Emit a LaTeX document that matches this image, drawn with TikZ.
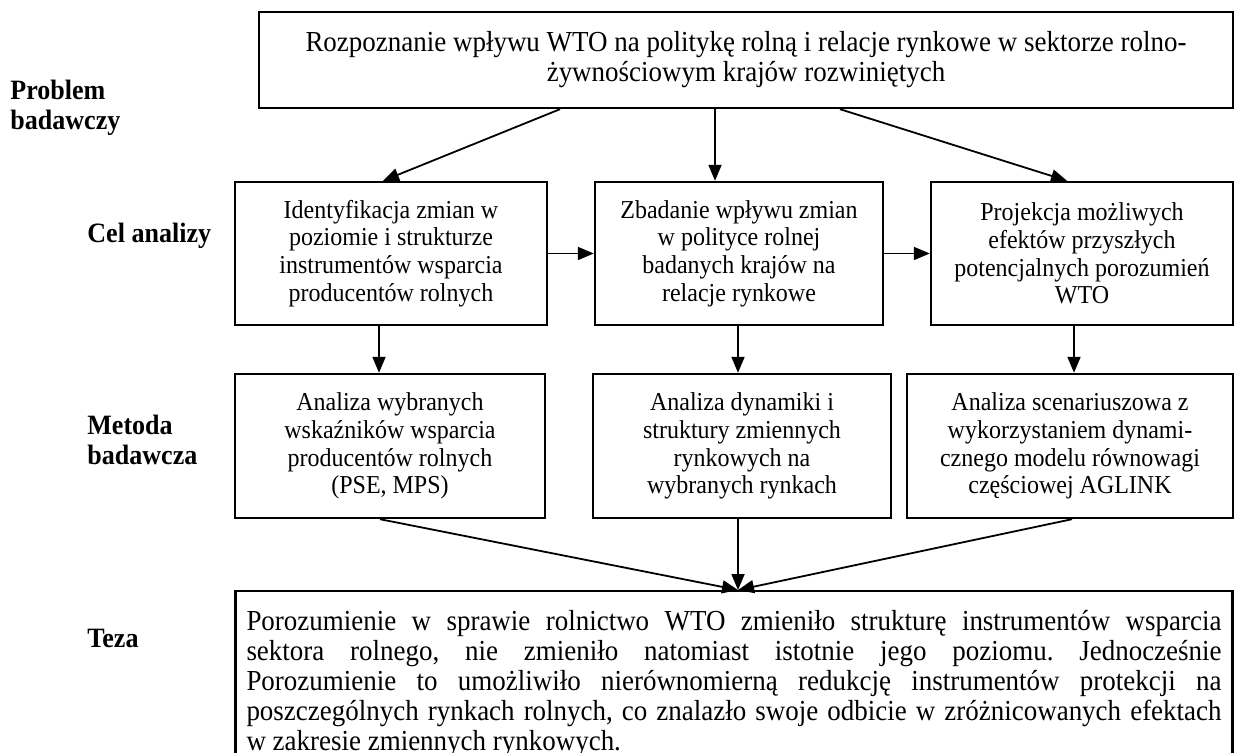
\documentclass[tikz,border=0pt]{standalone}
\usepackage{fontspec}
\setmainfont{Liberation Serif}[FakeStretch=0.93]
\usetikzlibrary{arrows.meta}
\setlength{\parindent}{0pt}
\frenchspacing
\begin{document}
\begin{tikzpicture}[x=0.5pt,y=-0.5pt,
  box/.style={draw, line width=1.2pt, inner sep=0pt, align=center,
    font=\fontsize{12.9}{13.85}\selectfont},
  arr/.style={line width=0.9pt, -{Triangle[length=8pt,width=6.5pt]}},
  lab/.style={anchor=west, align=left, inner sep=0pt,
    font=\fontsize{14}{15}\selectfont\bfseries}]
\clip (0,0) rectangle (1235,753);
\fill[white] (0,0) rectangle (1235,753);

% labels
\node[lab] (lp) at (10,108) {Problem\\badawczy};
\node[lab] (lc) at (87,236) {Cel analizy};
\node[lab] (lm) at (87,440) {Metoda\\badawcza};
\node[lab] (lt) at (87,638) {Teza};

% top box
\node[box, minimum width=487pt, minimum height=48pt,
  font=\fontsize{14.5}{15}\selectfont] (top) at (746,60)
  {Rozpoznanie wpływu WTO na politykę rolną i relacje rynkowe w sektorze rolno-\\żywnościowym krajów rozwiniętych};

% row 1
\node[box, minimum width=156pt, minimum height=71.5pt] (A) at (391,253.5)
  {Identyfikacja zmian w\\poziomie i strukturze\\instrumentów wsparcia\\producentów rolnych};
\node[box, minimum width=144pt, minimum height=71.5pt] (B) at (739,253.5)
  {Zbadanie wpływu zmian\\w polityce rolnej\\badanych krajów na\\relacje rynkowe};
\node[box, minimum width=151pt, minimum height=71.5pt] (C) at (1082,253.5)
  {Projekcja możliwych\\efektów przyszłych\\potencjalnych porozumień\\WTO};

% row 2
\node[box, minimum width=155pt, minimum height=72pt] (D) at (390,446)
  {Analiza wybranych\\wskaźników wsparcia\\producentów rolnych\\(PSE, MPS)};
\node[box, minimum width=149pt, minimum height=72pt] (E) at (742,446)
  {Analiza dynamiki i\\struktury zmiennych\\rynkowych na\\wybranych rynkach};
\node[box, minimum width=163pt, minimum height=72pt] (F) at (1070,446)
  {Analiza scenariuszowa z\\wykorzystaniem dynami-\\cznego modelu równowagi\\częściowej AGLINK};

% thesis box
\node[box, anchor=north, align=justify, text width=487.5pt, inner xsep=5.5pt,
  inner ysep=9.5pt, font=\fontsize{14.5}{15}\selectfont] (T) at (734,590)
  {Porozumienie w sprawie rolnictwo WTO zmieniło strukturę instrumentów wsparcia\linebreak
   sektora rolnego, nie zmieniło natomiast istotnie jego poziomu. Jednocześnie\linebreak
   Porozumienie to umożliwiło nierównomierną redukcję instrumentów protekcji na\linebreak
   poszczególnych rynkach rolnych, co znalazło swoje odbicie w zróżnicowanych efektach\linebreak
   w zakresie zmiennych rynkowych.};

% arrows top -> row 1
\draw[arr] ([xshift=-93pt]top.south) -- ([xshift=-4pt]A.north);
\draw[arr] ([xshift=-15.5pt]top.south) -- ([xshift=-15.5pt]top.south |- B.north);
\draw[arr] ([xshift=47pt]top.south) -- ([xshift=-7.5pt]C.north);

% horizontal arrows
\draw[arr] (A.east) -- (B.west);
\draw[arr] (B.east) -- (C.west);

% row 1 -> row 2
\draw[arr] ([xshift=-6pt]A.south) -- ([xshift=-6pt]A.south |- D.north);
\draw[arr] ([xshift=-0.5pt]B.south) -- ([xshift=-0.5pt]B.south |- E.north);
\draw[arr] ([xshift=-4pt]C.south) -- ([xshift=-4pt]C.south |- F.north);

% row 2 -> thesis
\coordinate (m) at ([xshift=2pt]T.north);
\draw[arr] ([xshift=-5pt]D.south) -- (m);
\draw[arr] ([xshift=-2.5pt]E.south) -- (E.south -| m) -- (m);
\draw[arr] ([xshift=1pt]F.south) -- (m);
\end{tikzpicture}
\end{document}
